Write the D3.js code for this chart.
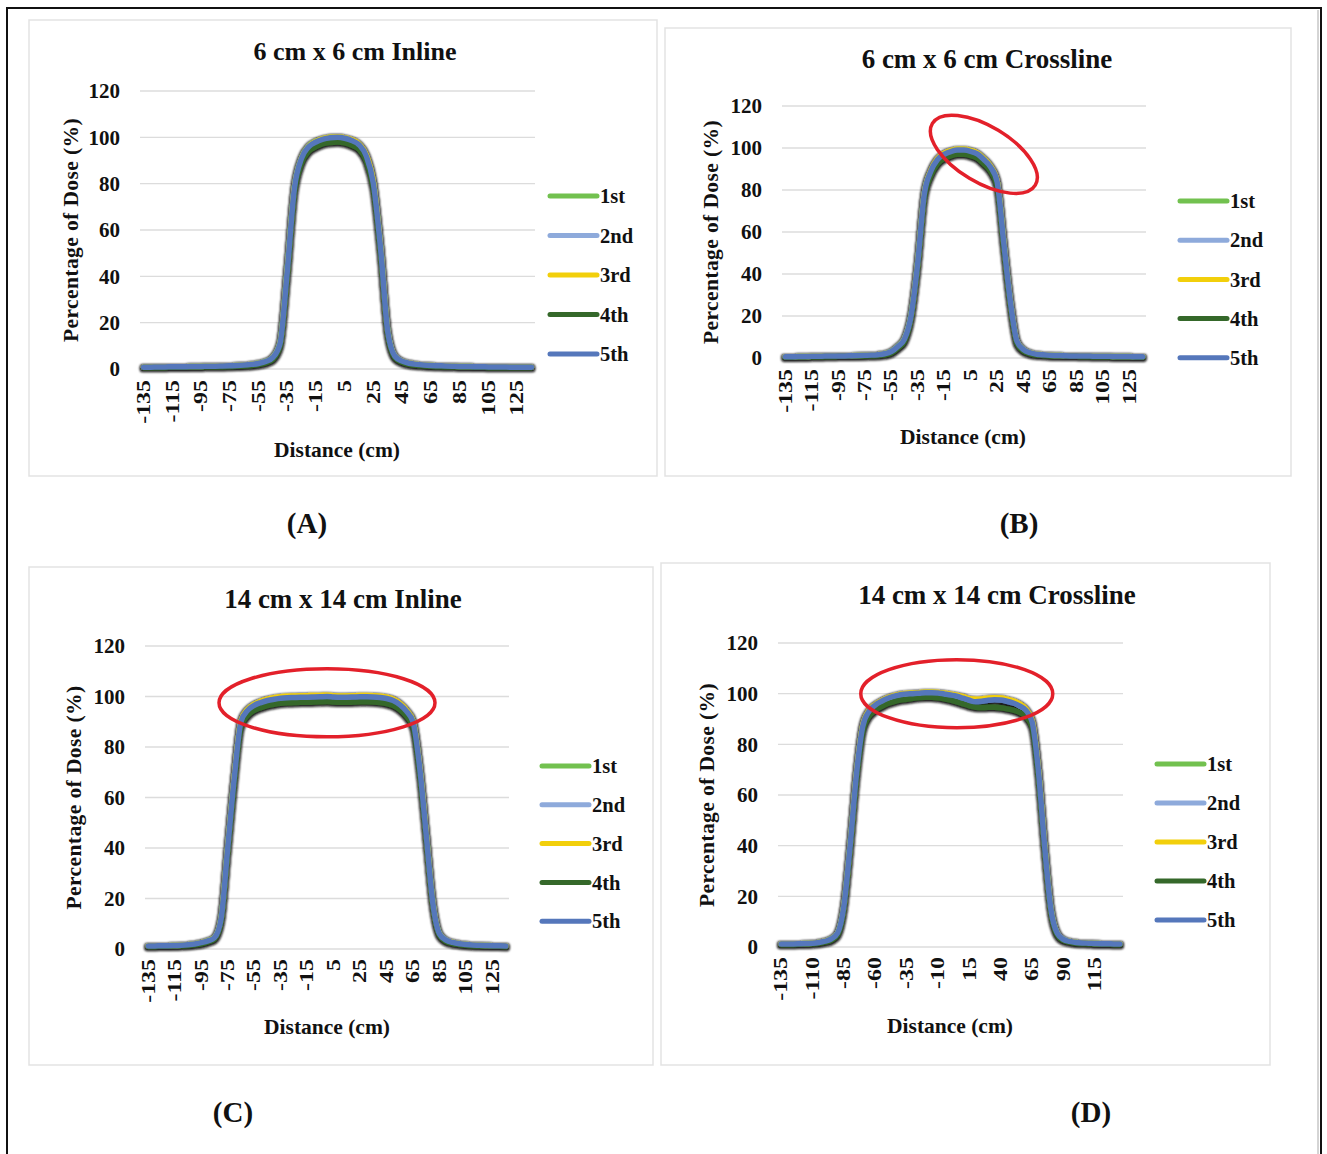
<!DOCTYPE html>
<html>
<head>
<meta charset="utf-8">
<script src="https://cdn.jsdelivr.net/npm/d3@7"></script>
<style>
  body { margin: 0; background: #fff; }
  svg text { font-family: "Liberation Serif", "Times New Roman", serif; font-weight: bold; fill: #111; }
</style>
</head>
<body>
<script>
/* globals d3 */

// categories: distance (cm), one point every 5 cm
var distanceCm = [-135,-130,-125,-120,-115,-110,-105,-100,-95,-90,-85,-80,-75,-70,-65,-60,-55,-50,-45,-40,
  -35,-30,-25,-20,-15,-10,-5,0,5,10,15,20,25,30,35,40,45,50,55,60,
  65,70,75,80,85,90,95,100,105,110,115,120,125,130,135];

var ticksAC = [-135,-115,-95,-75,-55,-35,-15,5,25,45,65,85,105,125];
var ticksD = [-135,-110,-85,-60,-35,-10,15,40,65,90,115];
var yTicks = [0,20,40,60,80,100,120];

var seriesNames = ['1st','2nd','3rd','4th','5th'];
var seriesColors = ['#72c14f','#8eaadb','#f2cf0b','#35682a','#5577bb'];

// (A) 6 cm x 6 cm Inline
var a1 = [0.8,0.8,0.9,0.9,1.0,1.0,1.0,1.1,1.1,1.2, 1.2,1.3,1.4,1.5,1.7,2.0,2.5,3.3,5.2,11.5,
  43,78.5,91.2,96.2,98.3,99.4,100,100.2,99.7,98.8, 97,92.3,80.5,52.5,16.5,5.6,3.4,2.5,2.0,1.7,
  1.5,1.4,1.3,1.2,1.1,1.1,1.0,1.0,0.9,0.9, 0.9,0.8,0.8,0.8,0.8];
var a2 = [0.8,0.8,0.9,0.9,1.0,1.0,1.0,1.1,1.1,1.2, 1.2,1.3,1.4,1.5,1.7,2.0,2.4,3.2,5.1,11.2,
  42.5,78.2,91,96.1,98.1,99.3,99.9,100.1,99.6,98.7, 96.9,92.1,80.2,52.2,16.2,5.5,3.4,2.5,2.0,1.7,
  1.5,1.4,1.3,1.2,1.1,1.1,1.0,1.0,0.9,0.9, 0.9,0.8,0.8,0.8,0.8];
var a3 = [0.8,0.8,0.9,0.9,1.0,1.0,1.0,1.1,1.1,1.2, 1.2,1.3,1.4,1.5,1.7,2.0,2.4,3.1,4.9,10.8,
  41.5,77.8,91,96.1,98.2,99.4,100,100.3,99.8,98.9, 97.1,92.4,80.4,51.8,15.8,5.4,3.3,2.5,2.0,1.7,
  1.5,1.4,1.3,1.2,1.1,1.1,1.0,1.0,0.9,0.9, 0.9,0.8,0.8,0.8,0.8];
var a4 = [0.6,0.6,0.7,0.7,0.8,0.8,0.8,0.9,0.9,1.0, 1.0,1.0,1.1,1.2,1.3,1.5,1.9,2.6,4.2,10,
  40,76,89,94,96,97.3,97.8,98,97.6,96.6, 94.8,90,78,50,15,4.8,2.9,2.0,1.6,1.4,
  1.2,1.1,1.0,1.0,0.9,0.9,0.8,0.8,0.7,0.7, 0.7,0.6,0.6,0.6,0.6];
var a5 = [0.8,0.8,0.9,0.9,1.0,1.0,1.0,1.1,1.1,1.2, 1.2,1.3,1.4,1.5,1.7,2.0,2.4,3.2,5.0,11,
  42,78,91,96,98,99.2,99.8,100,99.6,98.6, 96.8,92,80,52,16,5.5,3.4,2.5,2.0,1.7,
  1.5,1.4,1.3,1.2,1.1,1.1,1.0,1.0,0.9,0.9, 0.9,0.8,0.8,0.8,0.8];

// (B) 6 cm x 6 cm Crossline
var b1 = [0.6,0.6,0.7,0.7,0.8,0.8,0.9,0.9,1.0,1.0, 1.1,1.2,1.3,1.4,1.6,2.0,3.1,5.6,9.2,20.5,
  45.5,78.3,89.2,94.8,97.3,98.6,99.3,99.3,98.7,97.5, 94.8,91.2,84.3,55.4,27.3,8.1,4.0,2.5,1.8,1.5,
  1.3,1.2,1.1,1.0,1.0,0.9,0.9,0.8,0.8,0.8, 0.7,0.7,0.7,0.6,0.6];
var b2 = [0.6,0.6,0.7,0.7,0.8,0.8,0.9,0.9,1.0,1.0, 1.1,1.2,1.3,1.4,1.6,2.0,3.0,5.5,9.1,20.2,
  45.2,78.1,89.1,94.6,97.1,98.4,99.1,99.1,98.5,97.3, 94.6,91.1,84.1,55.2,27.1,8.0,4.0,2.5,1.8,1.5,
  1.3,1.2,1.1,1.0,1.0,0.9,0.9,0.8,0.8,0.8, 0.7,0.7,0.7,0.6,0.6];
var b3 = [0.6,0.6,0.7,0.7,0.8,0.8,0.9,0.9,1.0,1.0, 1.1,1.2,1.3,1.4,1.6,2.0,2.9,5.4,8.8,19.6,
  44.6,77.8,89.3,94.9,97.4,98.7,99.4,99.4,98.8,97.6, 94.9,91.3,84.2,54.6,26.6,7.8,3.9,2.5,1.8,1.5,
  1.3,1.2,1.1,1.0,1.0,0.9,0.9,0.8,0.8,0.8, 0.7,0.7,0.7,0.6,0.6];
var b4 = [0.4,0.4,0.5,0.5,0.6,0.6,0.7,0.7,0.8,0.8, 0.9,0.9,1.0,1.1,1.2,1.5,2.4,4.7,8,19,
  43.5,76,87,92.5,95,96.3,97,97,96.4,95.2, 92.5,89,82,53,25.5,7.0,3.3,2.0,1.4,1.2,
  1.0,0.9,0.9,0.8,0.8,0.7,0.7,0.6,0.6,0.6, 0.5,0.5,0.5,0.4,0.4];
var b5 = [0.6,0.6,0.7,0.7,0.8,0.8,0.9,0.9,1.0,1.0, 1.1,1.2,1.3,1.4,1.6,2.0,3.0,5.5,9,20,
  45,78,89,94.5,97,98.3,99,99,98.4,97.2, 94.5,91,84,55,27,8,4,2.5,1.8,1.5,
  1.3,1.2,1.1,1.0,1.0,0.9,0.9,0.8,0.8,0.8, 0.7,0.7,0.7,0.6,0.6];

// (C) 14 cm x 14 cm Inline
var c1 = [1.2,1.2,1.3,1.3,1.4,1.5,1.7,2.0,2.5,3.3, 4.6,12.4,40.6,68.4,90.2,94.8,96.8,97.9,98.7,99.2,
  99.6,99.8,99.9,100,100,100.1,100.2,100.3,100.1,100, 100,100.1,100.2,100.2,100.1,99.9,99.5,98.7,97.1,94.5,
  90.3,72.4,45.5,18.4,6.1,3.5,2.6,2.1,1.8,1.6, 1.5,1.4,1.3,1.3,1.2];
var c2 = [1.2,1.2,1.3,1.3,1.4,1.5,1.7,2.0,2.5,3.2, 4.5,12.1,40.3,68.2,90.1,94.6,96.6,97.7,98.5,99.0,
  99.4,99.6,99.7,99.8,99.8,99.9,100,100.1,99.9,99.8, 99.8,99.9,100,100,99.9,99.7,99.3,98.5,96.9,94.3,
  90.1,72.2,45.2,18.2,6.0,3.5,2.6,2.1,1.8,1.6, 1.5,1.4,1.3,1.3,1.2];
var c3 = [1.2,1.2,1.3,1.3,1.4,1.5,1.7,2.0,2.5,3.2, 4.4,11.8,39.8,68,90.3,94.9,96.9,98.1,98.9,99.5,
  99.9,100.1,100.2,100.3,100.3,100.4,100.4,100.5,100.3,100.2, 100.2,100.3,100.4,100.4,100.3,100.1,99.7,98.9,97.3,94.6,
  90.2,72,45,17.8,5.9,3.4,2.6,2.1,1.8,1.6, 1.5,1.4,1.3,1.3,1.2];
var c4 = [1.0,1.0,1.1,1.1,1.2,1.3,1.4,1.7,2.1,2.8, 4.0,11,38.5,66,88,92.5,94.5,95.6,96.4,96.9,
  97.3,97.5,97.6,97.7,97.7,97.8,97.9,98,97.8,97.7, 97.7,97.8,97.9,97.9,97.8,97.6,97.2,96.4,94.8,92.2,
  88,70,43.5,17,5.4,3.0,2.2,1.8,1.5,1.3, 1.2,1.2,1.1,1.1,1.0];
var c5 = [1.2,1.2,1.3,1.3,1.4,1.5,1.7,2.0,2.5,3.2, 4.5,12,40,68,90,94.5,96.5,97.6,98.4,98.9,
  99.3,99.5,99.6,99.7,99.7,99.8,99.9,100,99.8,99.7, 99.7,99.8,99.9,99.9,99.8,99.6,99.2,98.4,96.8,94.2,
  90,72,45,18,6,3.5,2.6,2.1,1.8,1.6, 1.5,1.4,1.3,1.3,1.2];

// (D) 14 cm x 14 cm Crossline
var d1 = [1.2,1.2,1.2,1.3,1.4,1.5,1.8,2.3,3.3,5.6, 16.3,40.5,68.3,87.2,93.2,95.6,97.1,98.3,99.1,99.7,
  100,100.1,100.3,100.5,100.5,100.4,100,99.6,99.1,98.4, 97.7,97.3,97.5,97.9,98.1,98.0,97.5,96.7,95.5,93.7,
  89.2,70.3,40.4,15.3,5.6,3.0,2.2,1.8,1.6,1.5, 1.4,1.3,1.3,1.2,1.2];
var d2 = [1.2,1.2,1.2,1.3,1.4,1.5,1.8,2.3,3.2,5.5, 16.1,40.2,68.1,87.1,93.1,95.5,97,98.2,99,99.6,
  99.9,100,100.2,100.4,100.4,100.3,99.9,99.5,99.0,98.3, 97.5,97,97.2,97.6,97.8,97.7,97.2,96.5,95.3,93.6,
  89.1,70.1,40.2,15.1,5.5,3.0,2.2,1.8,1.6,1.5, 1.4,1.3,1.3,1.2,1.2];
var d3v = [1.2,1.2,1.2,1.3,1.4,1.5,1.8,2.3,3.1,5.4, 15.7,39.6,67.8,87.3,93.3,95.7,97.2,98.4,99.2,99.8,
  100.1,100.2,100.4,100.6,100.6,100.5,100.2,99.8,99.4,98.8, 98,97.8,97.9,98.2,98.4,98.3,97.8,97.2,96,94,
  89.4,70.2,40,14.8,5.4,2.9,2.2,1.8,1.6,1.5, 1.4,1.3,1.3,1.2,1.2];
var d4 = [1.0,1.0,1.0,1.1,1.2,1.3,1.5,1.9,2.7,4.8, 15,38.5,66,85,91,93.4,94.9,96.1,96.9,97.5,
  97.8,98.2,98.5,98.6,98.6,98.4,98,97.5,96.8,96, 95.2,94.6,94.5,94.6,94.6,94.4,94,93.5,92.6,91,
  87,68,38.5,14,4.9,2.6,1.9,1.5,1.4,1.3, 1.2,1.1,1.1,1.0,1.0];
var d5 = [1.2,1.2,1.2,1.3,1.4,1.5,1.8,2.3,3.2,5.5, 16,40,68,87,93,95.5,97,98.2,99,99.6,
  99.9,100,100.2,100.4,100.4,100.3,99.9,99.5,99.0,98.2, 97.4,96.8,97.0,97.4,97.6,97.5,97.0,96.3,95.2,93.5,
  89,70,40,15,5.5,3.0,2.2,1.8,1.6,1.5, 1.4,1.3,1.3,1.2,1.2];

var fullWidth = 1327, fullHeight = 1154;

var svg = d3.select("body").append("svg")
  .attr("width", fullWidth)
  .attr("height", fullHeight);

// dark soft outline under the profile lines (excel shadow look)
var defs = svg.append("defs");
var halo = defs.append("filter").attr("id", "lineShadow")
  .attr("x", "-5%").attr("y", "-5%").attr("width", "110%").attr("height", "110%");
halo.append("feMorphology").attr("in", "SourceAlpha").attr("operator", "dilate").attr("radius", 1.3).attr("result", "fat");
halo.append("feGaussianBlur").attr("in", "fat").attr("stdDeviation", 1.1).attr("result", "blur");
halo.append("feOffset").attr("in", "blur").attr("dy", 0.6).attr("result", "off");
halo.append("feFlood").attr("flood-color", "#0d0d0d").attr("flood-opacity", 0.95);
halo.append("feComposite").attr("in2", "off").attr("operator", "in").attr("result", "dark");
var merge = halo.append("feMerge");
merge.append("feMergeNode").attr("in", "dark");
merge.append("feMergeNode").attr("in", "SourceGraphic");

// outer frame
svg.append("rect")
  .attr("x", 7).attr("y", 8)
  .attr("width", 1314).attr("height", 1170)
  .attr("fill", "none")
  .attr("stroke", "#111")
  .attr("stroke-width", 2);
svg.append("line")
  .attr("x1", 1318).attr("x2", 1318).attr("y1", 10).attr("y2", fullHeight)
  .attr("stroke", "#aaa").attr("stroke-width", 1);

var panels = [
  {title: "6 cm x 6 cm Inline", label: "(A)", series: [a1,a2,a3,a4,a5], ticks: ticksAC,
   box: [29,20,628,456], plot: [140,535,91,369], titleXY: [355,60], titleSize: 26, tickRight: 120, tickTop: 380,
   xTitle: [337,457], yTitleX: 70, legend: [550,196,39.5], labelXY: [307,533], ellipse: null},
  {title: "6 cm x 6 cm Crossline", label: "(B)", series: [b1,b2,b3,b4,b5], ticks: ticksAC,
   box: [665,28,626,448], plot: [782,1146,106,358], titleXY: [987,68], titleSize: 27, tickRight: 762, tickTop: 369,
   xTitle: [963,444], yTitleX: 710, legend: [1180,201,39.2], labelXY: [1019,533],
   ellipse: {cx: 15, cy: 97, rx: 60, ry: 28, rot: 31}},
  {title: "14 cm x 14 cm Inline", label: "(C)", series: [c1,c2,c3,c4,c5], ticks: ticksAC,
   box: [29,567,624,498], plot: [145,509,646,949], titleXY: [343,608], titleSize: 27, tickRight: 125, tickTop: 959,
   xTitle: [327,1034], yTitleX: 73, legend: [542,766,38.8], labelXY: [233,1122],
   ellipse: {cx: 0, cy: 97.5, rx: 108, ry: 34, rot: 0}},
  {title: "14 cm x 14 cm Crossline", label: "(D)", series: [d1,d2,d3v,d4,d5], ticks: ticksD,
   box: [661,563,609,502], plot: [778,1123,643,947], titleXY: [997,604], titleSize: 27, tickRight: 758, tickTop: 957,
   xTitle: [950,1033], yTitleX: 706, legend: [1157,764,39], labelXY: [1091,1122],
   ellipse: {cx: 5, cy: 100, rx: 96, ry: 34, rot: 0}}
];

panels.forEach(drawPanel);

function drawPanel(p) {
  var g = svg.append("g");

  g.append("rect")
    .attr("x", p.box[0]).attr("y", p.box[1])
    .attr("width", p.box[2]).attr("height", p.box[3])
    .attr("fill", "#fff")
    .attr("stroke", "#e3e3e3")
    .attr("stroke-width", 1.5);

  var x = d3.scalePoint().domain(distanceCm).range([p.plot[0], p.plot[1]]).padding(0.5);
  var y = d3.scaleLinear().domain([0, 120]).range([p.plot[3], p.plot[2]]);

  // gridlines
  g.append("g").selectAll("line")
    .data(yTicks)
    .enter().append("line")
    .attr("x1", p.plot[0]).attr("x2", p.plot[1])
    .attr("y1", function(d) { return y(d); })
    .attr("y2", function(d) { return y(d); })
    .attr("stroke", "#dcdcdc")
    .attr("stroke-width", 1.3);

  // y axis labels
  var yAxis = d3.axisLeft(y).tickValues(yTicks).tickSize(0).tickPadding(0);
  var ya = g.append("g")
    .attr("transform", "translate(" + p.tickRight + ",0)")
    .call(yAxis);
  ya.select(".domain").remove();
  ya.selectAll("text")
    .style("font-family", "Liberation Serif, serif")
    .style("font-weight", "bold")
    .style("font-size", "21px")
    .attr("fill", "#111");

  // x axis labels, rotated and drawn a little long like the original
  var xAxis = d3.axisBottom(x).tickValues(p.ticks).tickSize(0);
  var xa = g.append("g")
    .attr("transform", "translate(0," + p.tickTop + ")")
    .call(xAxis);
  xa.select(".domain").remove();
  xa.selectAll("text")
    .attr("transform", "rotate(-90) scale(1.33,1)")
    .attr("x", 0).attr("y", 0)
    .attr("dy", "0.32em")
    .style("text-anchor", "end")
    .style("font-family", "Liberation Serif, serif")
    .style("font-weight", "bold")
    .style("font-size", "18px")
    .attr("fill", "#111");

  // profile lines
  var line = d3.line()
    .x(function(d, i) { return x(distanceCm[i]); })
    .y(function(d) { return y(d); })
    .curve(d3.curveMonotoneX);

  var lines = g.append("g").attr("filter", "url(#lineShadow)");
  lines.selectAll("path")
    .data(p.series)
    .enter().append("path")
    .attr("d", line)
    .attr("fill", "none")
    .attr("stroke", function(d, i) { return seriesColors[i]; })
    .attr("stroke-width", 5.5)
    .attr("stroke-linejoin", "round")
    .attr("stroke-linecap", "round");

  // legend
  var leg = g.append("g").selectAll("g")
    .data(seriesNames)
    .enter().append("g")
    .attr("transform", function(d, i) { return "translate(" + p.legend[0] + "," + (p.legend[1] + i * p.legend[2]) + ")"; });
  leg.append("line")
    .attr("x1", 0).attr("x2", 47)
    .attr("stroke", function(d, i) { return seriesColors[i]; })
    .attr("stroke-width", 5)
    .attr("stroke-linecap", "round");
  leg.append("text")
    .attr("x", 50).attr("dy", "0.35em")
    .style("font-size", "20.5px")
    .text(function(d) { return d; });

  // titles
  g.append("text")
    .attr("x", p.titleXY[0]).attr("y", p.titleXY[1])
    .attr("text-anchor", "middle")
    .style("font-size", p.titleSize + "px")
    .text(p.title);

  g.append("text")
    .attr("x", p.xTitle[0]).attr("y", p.xTitle[1])
    .attr("text-anchor", "middle")
    .style("font-size", "21.5px")
    .text("Distance (cm)");

  g.append("text")
    .attr("transform", "translate(" + p.yTitleX + "," + ((p.plot[2] + p.plot[3]) / 2) + ") rotate(-90)")
    .attr("text-anchor", "middle")
    .attr("dy", "0.35em")
    .style("font-size", "21.5px")
    .style("letter-spacing", "0.4px")
    .text("Percentage of Dose (%)");

  // highlight ring
  if (p.ellipse) {
    var e = p.ellipse;
    g.append("ellipse")
      .attr("transform", "translate(" + x(e.cx) + "," + y(e.cy) + ") rotate(" + e.rot + ")")
      .attr("rx", e.rx).attr("ry", e.ry)
      .attr("fill", "none")
      .attr("stroke", "#e3202a")
      .attr("stroke-width", 3.5);
  }

  svg.append("text")
    .attr("x", p.labelXY[0]).attr("y", p.labelXY[1])
    .attr("text-anchor", "middle")
    .style("font-size", "29px")
    .text(p.label);
}
</script>
</body>
</html>
